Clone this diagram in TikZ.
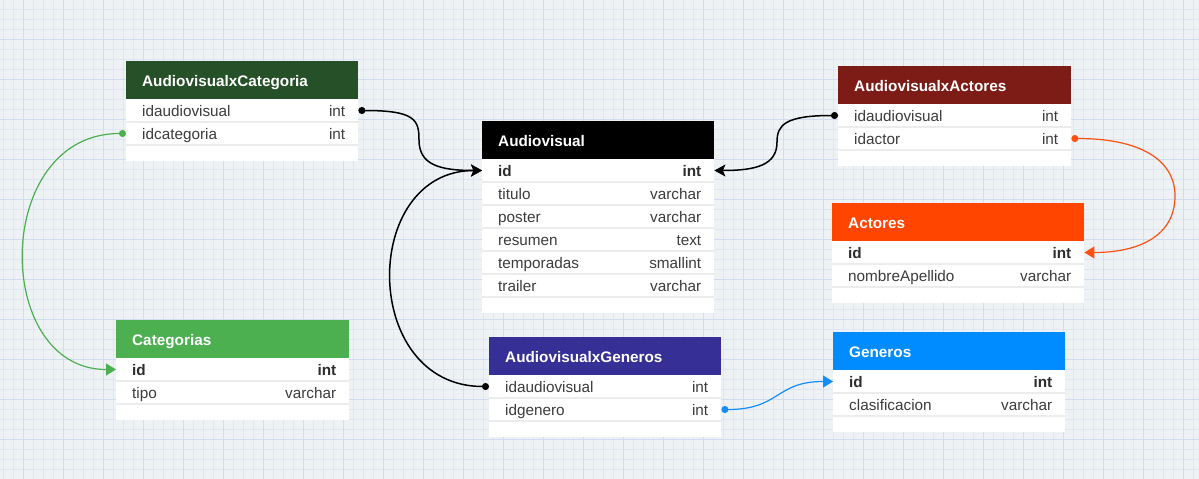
\documentclass[tikz,border=0pt]{standalone}
\usepackage{fontspec}
\setmainfont{Liberation Sans}
\usetikzlibrary{arrows.meta,calc}
\definecolor{bgc}{RGB}{238,242,245}
\definecolor{gridminor}{RGB}{221,230,242}
\definecolor{gridmajor}{RGB}{208,221,240}
\definecolor{sepc}{RGB}{236,236,236}
\definecolor{rowc}{RGB}{60,60,60}
\definecolor{boldc}{RGB}{45,45,45}
\definecolor{hdrdkgreen}{RGB}{38,80,40}
\definecolor{hdrblack}{RGB}{0,0,0}
\definecolor{hdrdkred}{RGB}{125,28,22}
\definecolor{hdrorange}{RGB}{255,69,0}
\definecolor{hdrgreen}{RGB}{76,175,80}
\definecolor{hdrpurple}{RGB}{54,47,150}
\definecolor{hdrblue}{RGB}{0,140,255}
\definecolor{lnorange}{RGB}{255,80,20}
\definecolor{lnblue}{RGB}{20,140,250}
\definecolor{lngreen}{RGB}{76,175,80}

\newcommand\ertab[8]{% #1 name, #2 x, #3 y, #4 width, #5 rows, #6 colour, #7 title, #8 rows list
  \pgfmathsetmacro\ertw{#4-29}%
  \pgfmathsetmacro\erhw{#4-32}%
  \pgfmathsetmacro\erbh{38+23*#5+16}%
  \node[tbody, minimum width=#4pt, minimum height=\erbh pt] (#1) at (#2,#3) {};
  \node[hdr, fill=#6, text width=\erhw pt, minimum width=#4pt] (#1-h) at (#2,#3) {#7};
  \foreach \nm/\ty [count=\k] in {#8} {
    \node[rowtxt, text width=\ertw pt] (#1-\k) at (#2+16, #3+38+23*\k-11.5) {\nm\hfill\ty};
    \draw[sepline] (#2, #3+38+23*\k) -- ++(#4,0);
  }
}

\begin{document}
\begin{tikzpicture}[x=1pt,y=-1pt,
  tbody/.style={fill=white, draw=none, anchor=north west, inner sep=0pt},
  hdr/.style={anchor=north west, inner xsep=16pt, inner ysep=0pt, minimum height=38pt,
    align=left, text=white, text height=12pt, text depth=0pt,
    font=\bfseries\fontsize{15.3}{18}\selectfont},
  rowtxt/.style={anchor=west, inner sep=0pt, align=left, text=rowc,
    text height=11pt, text depth=0pt, font=\fontsize{15.3}{18}\selectfont},
  sepline/.style={draw=sepc, line width=1.8pt},
  blk/.style={draw=black, line width=1.5pt, {Circle[length=7pt]}-{Stealth[length=11pt,width=12pt,inset=2.5pt]}},
  clr/.style={draw=#1, line width=1.2pt, {Circle[length=7pt]}-{Triangle[length=10pt,width=12pt]}},
]
\useasboundingbox (0,0) rectangle (1199,479);
\fill[bgc] (0,0) rectangle (1199,479);
\foreach \gx in {3,13,...,1199} \draw[gridminor, line width=0.6pt] (\gx,0) -- (\gx,479);
\foreach \gy in {9,19,...,479} \draw[gridminor, line width=0.6pt] (0,\gy) -- (1199,\gy);
\foreach \gx in {23,63,...,1199} \draw[gridmajor, line width=0.8pt] (\gx,0) -- (\gx,479);
\foreach \gy in {39,79,...,479} \draw[gridmajor, line width=0.8pt] (0,\gy) -- (1199,\gy);

\ertab{ac}{126}{61}{232}{2}{hdrdkgreen}{AudiovisualxCategoria}{idaudiovisual/int, idcategoria/int}
\ertab{av}{482}{121}{232}{6}{hdrblack}{Audiovisual}{{\textbf{\color{boldc}id}}/{\textbf{\color{boldc}int}}, titulo/varchar, poster/varchar, resumen/text, temporadas/smallint, trailer/varchar}
\ertab{ax}{838}{66}{233}{2}{hdrdkred}{AudiovisualxActores}{idaudiovisual/int, idactor/int}
\ertab{act}{832}{203}{252}{2}{hdrorange}{Actores}{{\textbf{\color{boldc}id}}/{\textbf{\color{boldc}int}}, nombreApellido/varchar}
\ertab{cat}{116}{320}{233}{2}{hdrgreen}{Categorias}{{\textbf{\color{boldc}id}}/{\textbf{\color{boldc}int}}, tipo/varchar}
\ertab{ag}{489}{337}{232}{2}{hdrpurple}{AudiovisualxGeneros}{idaudiovisual/int, idgenero/int}
\ertab{gen}{833}{332}{232}{2}{hdrblue}{Generos}{{\textbf{\color{boldc}id}}/{\textbf{\color{boldc}int}}, clasificacion/varchar}

\coordinate (c1) at (419,140);
\coordinate (c2) at (777,142);
\coordinate (c3) at (1175,196);

\draw[blk] (ac-1 -| ac.east) .. controls +(57,0) and +(0,-20) .. (c1)
  .. controls +(0,25) and +(-42,0) .. (av-1 -| av.west);
\draw[blk] (ax-1 -| ax.west) .. controls +(-53,0) and +(0,-17) .. (c2)
  .. controls +(0,23) and +(42,0) .. (av-1 -| av.east);
\draw[blk] (ag-1 -| ag.west) .. controls +(-129,0) and +(-122,0) .. (av-1 -| av.west);
\draw[clr=lnorange] (ax-2 -| ax.east) .. controls +(69,0) and +(0,-36) .. (c3)
  .. controls +(0,39) and +(56,0) .. (act-1 -| act.east);
\draw[clr=lngreen] (ac-2 -| ac.west) .. controls +(-134,0) and +(-124,0) .. (cat-1 -| cat.west);
\draw[clr=lnblue] (ag-2 -| ag.east) .. controls +(59,0) and +(-58,0) .. (gen-1 -| gen.west);
\end{tikzpicture}
\end{document}
